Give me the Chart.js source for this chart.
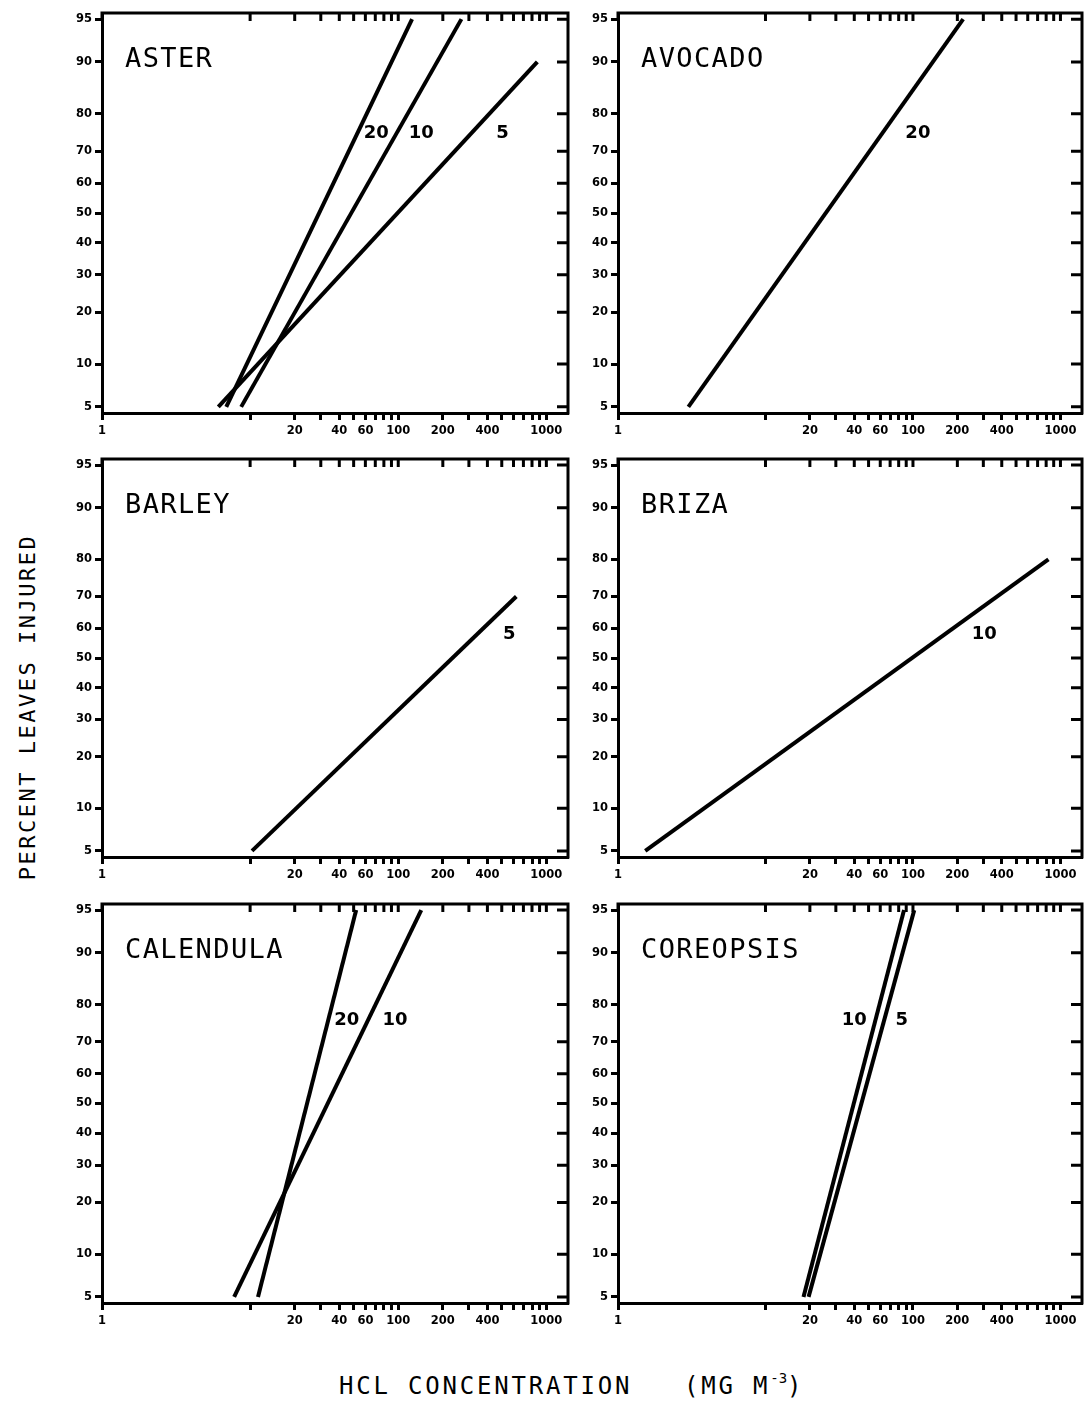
<!DOCTYPE html>
<html>
<head>
<meta charset="utf-8">
<title>Percent leaves injured vs HCl concentration</title>
<script src="https://cdn.jsdelivr.net/npm/chart.js@4.4.1/dist/chart.umd.min.js"></script>
<style>
  body { margin: 0; background: #fff; }
  #page { position: relative; width: 1091px; height: 1402px; overflow: hidden; background: #fff; }
  #page canvas { position: absolute; }
  .title { position: absolute; font-family: 'DejaVu Sans Mono', monospace; color: #000; white-space: pre; }
  #ytitle { left: -172px; top: 696px; width: 400px; text-align: center; font-size: 22px; line-height: 22px; letter-spacing: 2.5px; transform: rotate(-90deg); }
  #xtitle { left: 339px; top: 1374px; font-size: 24px; line-height: 24px; letter-spacing: 2.8px; }
  #xtitle sup { font-size: 14px; vertical-align: baseline; position: relative; top: -11px; letter-spacing: 0; }
</style>
</head>
<body>
<div id="page">
  <div id="ytitle" class="title">PERCENT LEAVES INJURED</div>
  <div id="xtitle" class="title">HCL CONCENTRATION   (MG M<sup>-3</sup>)</div>
</div>
<script>
// axis ticks
const X_TICKS = [1, 10, 20, 30, 40, 50, 60, 70, 80, 90, 100, 200, 300, 400, 500, 600, 700, 800, 900, 1000];
const X_LABELS = [1, 20, 40, 60, 100, 200, 400, 1000];
const Y_TICKS = [5, 10, 20, 30, 40, 50, 60, 70, 80, 90, 95];

// each fitted line: concentration (mg m-3) at its two ends, and percent injured there
const asterCurves = ['20', '10', '5'];
const asterConc = [[6.9, 124], [8.7, 267], [6.1, 869]];
const asterPct = [[5, 95], [5, 95], [5, 90]];

const avocadoCurves = ['20'];
const avocadoConc = [[3.0, 219]];
const avocadoPct = [[5, 95]];

const barleyCurves = ['5'];
const barleyConc = [[10.3, 627]];
const barleyPct = [[5, 70]];

const brizaCurves = ['10'];
const brizaConc = [[1.53, 829]];
const brizaPct = [[5, 80]];

const calendulaCurves = ['20', '10'];
const calendulaConc = [[11.3, 52], [7.8, 143]];
const calendulaPct = [[5, 95], [5, 95]];

const coreopsisCurves = ['10', '5'];
const coreopsisConc = [[18.1, 87], [19.6, 102]];
const coreopsisPct = [[5, 95], [5, 95]];

const panels = [
  { name: 'ASTER', col: 0, row: 0, curves: asterCurves, conc: asterConc, pct: asterPct,
    tagAt: [[71, 75], [143, 75], [505, 75]] },
  { name: 'AVOCADO', col: 1, row: 0, curves: avocadoCurves, conc: avocadoConc, pct: avocadoPct,
    tagAt: [[108, 75]] },
  { name: 'BARLEY', col: 0, row: 1, curves: barleyCurves, conc: barleyConc, pct: barleyPct,
    tagAt: [[562, 58]] },
  { name: 'BRIZA', col: 1, row: 1, curves: brizaCurves, conc: brizaConc, pct: brizaPct,
    tagAt: [[304, 58]] },
  { name: 'CALENDULA', col: 0, row: 2, curves: calendulaCurves, conc: calendulaConc, pct: calendulaPct,
    tagAt: [[45, 76], [95, 76]] },
  { name: 'COREOPSIS', col: 1, row: 2, curves: coreopsisCurves, conc: coreopsisConc, pct: coreopsisPct,
    tagAt: [[40, 76], [84, 76]] }
];

// canvas placement for the 2 x 3 grid
const COLS = [{ left: 40, width: 540, axis: 62, pad: 12 }, { left: 570, width: 521, axis: 48, pad: 9 }];
const ROWS = [{ top: 3, height: 440 }, { top: 449, height: 438 }, { top: 894, height: 439 }];

// inverse normal CDF (Acklam), used for the probability axis
function probit(p) {
  const a = [-39.69683028665376, 220.9460984245205, -275.9285104469687, 138.3577518672690, -30.66479806614716, 2.506628277459239];
  const b = [-54.47609879822406, 161.5858368580409, -155.6989798598866, 66.80131188771972, -13.28068155288572];
  const c = [-0.007784894002430293, -0.3223964580411365, -2.400758277161838, -2.549732539343734, 4.374664141464968, 2.938163982698783];
  const d = [0.007784695709041462, 0.3224671290700398, 2.445134137142996, 3.754408661907416];
  const lo = 0.02425;
  let q, r;
  if (p < lo) {
    q = Math.sqrt(-2 * Math.log(p));
    return (((((c[0] * q + c[1]) * q + c[2]) * q + c[3]) * q + c[4]) * q + c[5]) / ((((d[0] * q + d[1]) * q + d[2]) * q + d[3]) * q + 1);
  }
  if (p > 1 - lo) {
    q = Math.sqrt(-2 * Math.log(1 - p));
    return -(((((c[0] * q + c[1]) * q + c[2]) * q + c[3]) * q + c[4]) * q + c[5]) / ((((d[0] * q + d[1]) * q + d[2]) * q + d[3]) * q + 1);
  }
  q = p - 0.5;
  r = q * q;
  return (((((a[0] * r + a[1]) * r + a[2]) * r + a[3]) * r + a[4]) * r + a[5]) * q / (((((b[0] * r + b[1]) * r + b[2]) * r + b[3]) * r + b[4]) * r + 1);
}

const Z_LIMIT = probit(0.95) + 0.052;
const tickFont = { family: 'DejaVu Sans', weight: 'bold', size: 11.5 };

// top/right frame with inward ticks, panel name and curve tags
const panelFrame = {
  id: 'panelFrame',
  afterDraw(chart, args, opts) {
    const { ctx, chartArea: a } = chart;
    const x = chart.scales.x, y = chart.scales.y;
    ctx.save();
    ctx.strokeStyle = '#000';
    ctx.lineWidth = 3;
    ctx.beginPath();
    ctx.moveTo(a.left - 1.5, a.top);
    ctx.lineTo(a.right, a.top);
    ctx.lineTo(a.right, a.bottom + 1.5);
    x.ticks.forEach(t => {
      const px = x.getPixelForValue(t.value);
      ctx.moveTo(px, a.top);
      ctx.lineTo(px, a.top + 8);
    });
    y.ticks.forEach(t => {
      const py = y.getPixelForValue(t.value);
      ctx.moveTo(a.right, py);
      ctx.lineTo(a.right - 11, py);
    });
    ctx.stroke();

    ctx.fillStyle = '#000';
    ctx.font = '27px "DejaVu Sans Mono"';
    ctx.letterSpacing = '1.4px';
    ctx.textAlign = 'left';
    ctx.textBaseline = 'alphabetic';
    ctx.fillText(opts.name, a.left + 23, a.top + 54);

    ctx.letterSpacing = '0px';
    ctx.font = 'bold 18px "DejaVu Sans"';
    ctx.textAlign = 'center';
    ctx.textBaseline = 'middle';
    opts.curves.forEach((label, i) => {
      const [cx, cp] = opts.tagAt[i];
      ctx.fillText(label, x.getPixelForValue(cx), y.getPixelForValue(probit(cp / 100)));
    });
    ctx.restore();
  }
};

const page = document.getElementById('page');

panels.forEach(p => {
  const col = COLS[p.col], row = ROWS[p.row];
  const canvas = document.createElement('canvas');
  canvas.width = col.width;
  canvas.height = row.height;
  canvas.style.left = col.left + 'px';
  canvas.style.top = row.top + 'px';
  canvas.style.width = col.width + 'px';
  canvas.style.height = row.height + 'px';
  page.appendChild(canvas);

  const datasets = p.conc.map((ends, i) => ({
    label: p.curves[i],
    data: ends.map((v, k) => ({ x: v, y: probit(p.pct[i][k] / 100) })),
    borderColor: '#000',
    borderWidth: 4,
    borderCapStyle: 'butt',
    pointRadius: 0,
    tension: 0,
    fill: false
  }));

  new Chart(canvas, {
    type: 'line',
    data: { datasets },
    options: {
      responsive: false,
      animation: false,
      events: [],
      layout: { padding: { top: 10, right: col.pad, left: 0, bottom: 0 } },
      plugins: {
        legend: { display: false },
        tooltip: { enabled: false },
        panelFrame: { name: p.name, curves: p.curves, tagAt: p.tagAt }
      },
      scales: {
        x: {
          type: 'logarithmic',
          min: 1,
          max: 1400,
          afterBuildTicks: s => { s.ticks = X_TICKS.map(v => ({ value: v })); },
          afterFit: s => { s.height = 30; },
          border: { color: '#000', width: 3 },
          grid: { drawOnChartArea: false, drawTicks: true, tickLength: 7, tickWidth: 3, tickColor: '#000' },
          ticks: {
            autoSkip: false, maxRotation: 0, padding: 4, color: '#000', font: tickFont,
            callback: v => X_LABELS.includes(v) ? String(v) : ''
          }
        },
        y: {
          type: 'linear',
          min: -Z_LIMIT,
          max: Z_LIMIT,
          afterBuildTicks: s => { s.ticks = Y_TICKS.map(v => ({ value: probit(v / 100) })); },
          afterFit: s => { s.width = col.axis; },
          border: { color: '#000', width: 3 },
          grid: { drawOnChartArea: false, drawTicks: true, tickLength: 7, tickWidth: 3, tickColor: '#000' },
          ticks: {
            autoSkip: false, padding: 3, color: '#000', font: tickFont,
            callback: (v, i) => String(Y_TICKS[i])
          }
        }
      }
    },
    plugins: [panelFrame]
  });
});
</script>
</body>
</html>
